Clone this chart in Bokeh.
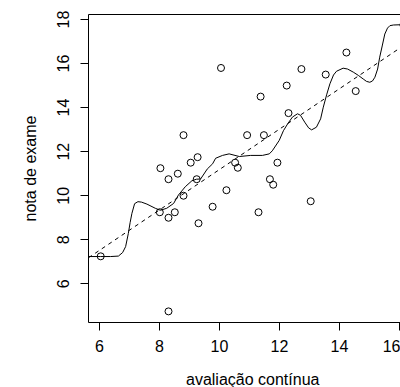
from bokeh.plotting import figure
from bokeh.models import Range1d, LinearAxis, FixedTicker, Label
from bokeh.embed import file_html
from bokeh.resources import INLINE

# Continuous-assessment grade vs. exam grade, one circle per student
avaliacao = [6.04, 8.01, 8.30, 8.51, 8.30, 9.30, 8.80, 8.03, 8.30, 8.61,
             9.04, 9.27, 9.24, 8.80, 9.77, 10.23, 11.30, 13.04, 10.05, 12.73,
             14.23, 13.54, 12.24, 14.54, 11.37, 12.30, 10.92, 11.48, 10.52, 10.61,
             11.93, 11.68, 11.79, 16.13]
exame = [7.25, 9.25, 9.00, 9.25, 4.75, 8.75, 10.00, 11.25, 10.75, 11.00,
         11.50, 11.75, 10.75, 12.75, 9.50, 10.25, 9.25, 9.75, 15.80, 15.75,
         16.50, 15.50, 15.00, 14.75, 14.50, 13.75, 12.75, 12.75, 11.50, 11.27,
         11.50, 10.75, 10.50, 17.75]

# Local smoother through the cloud
suave_x = [5.64, 6.03, 6.37, 6.63, 6.77, 6.87, 6.96, 7.02, 7.08, 7.17,
           7.28, 7.40, 7.58, 7.86, 8.03, 8.24, 8.47, 8.63, 8.86, 9.08,
           9.23, 9.37, 9.59, 9.77, 9.87, 10.10, 10.32, 10.66, 11.04, 11.43,
           11.66, 11.76, 11.99, 12.13, 12.27, 12.43, 12.60, 12.70, 12.84, 12.97,
           13.07, 13.23, 13.37, 13.46, 13.57, 13.68, 13.80, 13.90, 14.12, 14.27,
           14.46, 14.63, 14.79, 14.90, 15.01, 15.10, 15.18, 15.27, 15.34, 15.43,
           15.51, 15.60, 15.68, 15.80, 16.01, 16.30]
suave_y = [7.24, 7.24, 7.24, 7.26, 7.42, 7.69, 8.28, 8.78, 9.20, 9.64,
           9.73, 9.71, 9.62, 9.43, 9.34, 9.43, 9.65, 10.03, 10.41, 10.68,
           10.75, 10.76, 11.21, 11.45, 11.70, 11.83, 11.90, 11.78, 11.83, 11.83,
           11.90, 12.04, 12.51, 12.95, 13.26, 13.57, 13.72, 13.65, 13.34, 13.08,
           12.99, 13.11, 13.49, 14.02, 14.58, 15.08, 15.48, 15.65, 15.79, 15.75,
           15.61, 15.46, 15.30, 15.19, 15.15, 15.21, 15.38, 15.75, 16.29, 16.84,
           17.34, 17.61, 17.72, 17.75, 17.76, 17.76]

# Least-squares line
reta_a = 2.02
reta_b = 0.917

x_ticks = [6, 8, 10, 12, 14, 16]
y_ticks = [6, 8, 10, 12, 14, 16, 18]

x_lo, x_hi = 5.633, 16.033
y_lo, y_hi = 4.2456, 18.2266

FONT = "Liberation Sans"

p = figure(width=400, height=387, output_backend="svg", toolbar_location=None,
           x_range=Range1d(x_lo, x_hi), y_range=Range1d(y_lo, y_hi),
           min_border_left=88, min_border_right=0, min_border_top=14,
           min_border_bottom=65, y_axis_label="nota de exame")
p.grid.visible = False
p.outline_line_color = None
p.background_fill_color = "white"
p.border_fill_color = "white"

for ax, ticks in ((p.xaxis, x_ticks), (p.yaxis, y_ticks)):
    ax.ticker = FixedTicker(ticks=ticks)
    ax.major_tick_out = 8
    ax.major_tick_in = 0
    ax.minor_tick_line_color = None
    ax.axis_line_color = "black"
    ax.major_tick_line_color = "black"
    ax.major_label_text_font = FONT
    ax.major_label_text_font_size = "16px"
    ax.major_label_text_color = "black"

p.xaxis.major_label_standoff = 9
p.yaxis.major_label_standoff = 11

p.yaxis.major_label_orientation = "vertical"
p.yaxis.axis_label_text_font = FONT
p.yaxis.axis_label_text_font_size = "16px"
p.yaxis.axis_label_text_font_style = "normal"
p.yaxis.axis_label_text_color = "black"
p.yaxis.axis_label_standoff = 16

# top edge of the box
top = LinearAxis(ticker=FixedTicker(ticks=[]), axis_line_color="black",
                 major_tick_line_color=None, minor_tick_line_color=None,
                 major_label_text_color=None)
p.add_layout(top, "above")

# x-axis title, set in the bottom margin
xt = Label(x=97.5, x_units="screen", y=-8, y_units="screen",
           text="avaliação contínua", text_align="left",
           text_baseline="alphabetic", text_font=FONT,
           text_font_size="16px", text_color="black")
p.add_layout(xt, "below")

p.line([x_lo, x_hi], [reta_a + reta_b * x_lo, reta_a + reta_b * x_hi],
       line_color="black", line_width=1, line_dash="4 4")
p.line(suave_x, suave_y, line_color="black", line_width=1)
p.scatter(avaliacao, exame, marker="circle", size=7, fill_color=None,
          line_color="black", line_width=1)

open("out.html", "w").write(file_html(p, INLINE))
